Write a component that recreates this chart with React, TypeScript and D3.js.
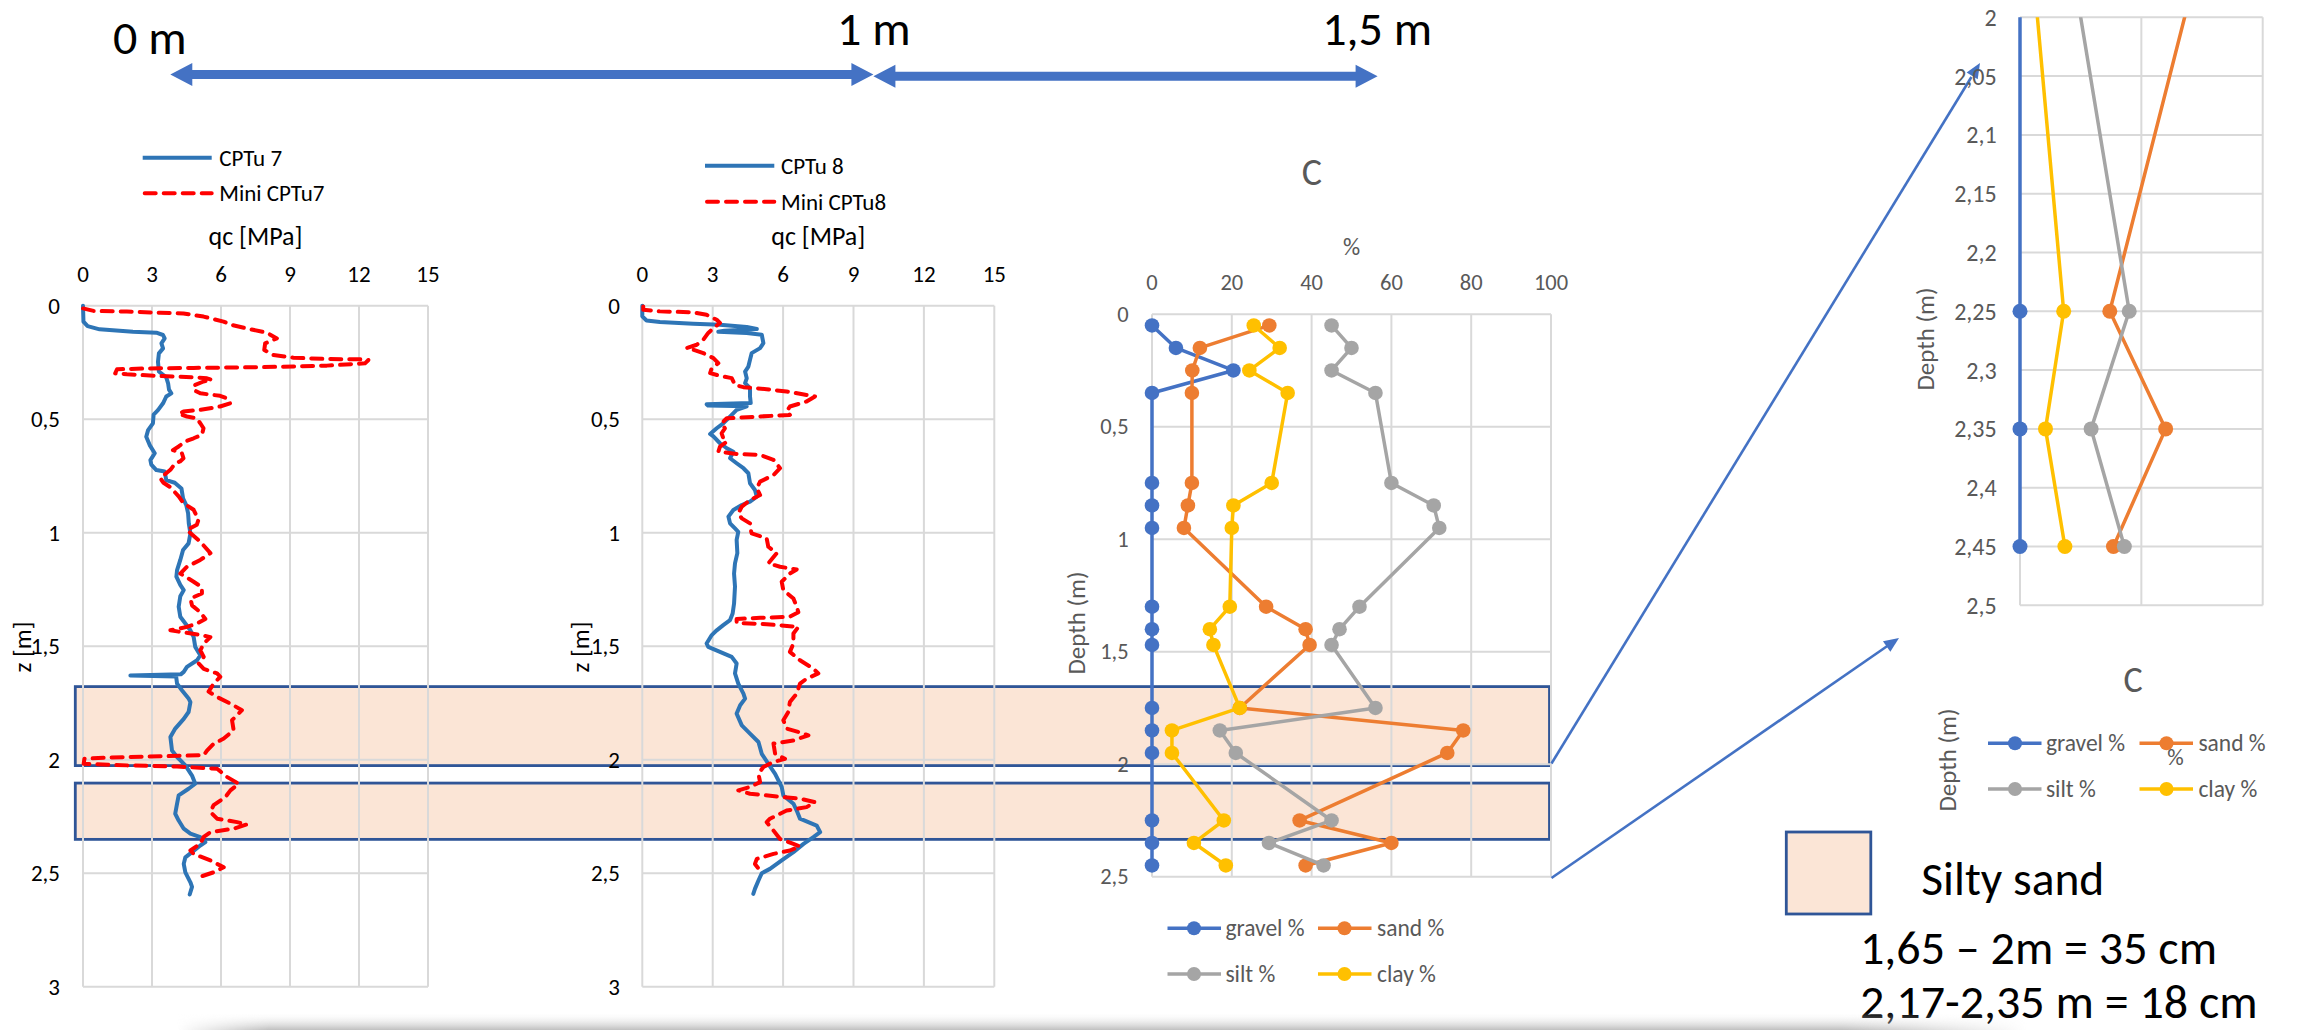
import React, { useMemo } from 'react';
import * as d3 from 'd3';

// ---------------- data ----------------
const qcTicks = [0, 3, 6, 9, 12, 15];
const depthTicks = [0, 0.5, 1, 1.5, 2, 2.5, 3];
const grainTicks = [0, 20, 40, 60, 80, 100];
const grainDepthTicks = [0, 0.5, 1, 1.5, 2, 2.5];
const insetDepthTicks = [2, 2.05, 2.1, 2.15, 2.2, 2.25, 2.3, 2.35, 2.4, 2.45, 2.5];
const insetGridX = [0, 50, 100];

// [depth m, qc MPa]
const cptu7: [number, number][] = [[0,0],[0.07,0.02],[0.09,0.2],[0.104,0.72],[0.115,2.17],[0.119,3.19],[0.129,3.48],[0.144,3.55],[0.166,3.41],[0.188,3.48],[0.21,3.3],[0.247,3.26],[0.29,3.3],[0.316,3.62],[0.342,3.7],[0.37,3.74],[0.386,3.84],[0.40,3.62],[0.43,3.48],[0.46,3.26],[0.48,3.07],[0.518,3.04],[0.548,2.83],[0.577,2.75],[0.614,2.9],[0.65,3.12],[0.68,2.93],[0.70,2.97],[0.724,3.19],[0.73,3.55],[0.768,3.62],[0.78,3.99],[0.805,4.28],[0.849,4.35],[0.878,4.49],[0.915,4.57],[0.959,4.6],[1.003,4.67],[1.047,4.59],[1.076,4.35],[1.12,4.23],[1.165,4.09],[1.194,4.06],[1.23,4.23],[1.253,4.38],[1.28,4.23],[1.326,4.16],[1.37,4.23],[1.40,4.45],[1.43,4.67],[1.459,4.81],[1.503,4.88],[1.54,5.1],[1.562,4.96],[1.591,4.52],[1.613,4.38],[1.624,4.25],[1.629,2.06],[1.634,4.05],[1.665,4.09],[1.694,4.3],[1.73,4.59],[1.746,4.67],[1.79,4.59],[1.82,4.38],[1.863,4.01],[1.90,3.8],[1.96,3.87],[1.988,4.09],[2.025,4.45],[2.07,4.74],[2.106,4.88],[2.128,4.59],[2.157,4.16],[2.194,4.09],[2.238,4.01],[2.268,4.16],[2.304,4.38],[2.326,4.67],[2.341,5.1],[2.363,5.32],[2.378,5.1],[2.407,4.74],[2.43,4.45],[2.459,4.38],[2.496,4.45],[2.54,4.67],[2.56,4.74],[2.594,4.64]];

const miniCptu7: [number, number][] = [[0.012,0],[0.023,0.46],[0.026,1.91],[0.031,3.36],[0.034,4.37],[0.048,5.24],[0.07,6.11],[0.085,6.47],[0.10,7.12],[0.119,7.99],[0.144,8.43],[0.166,7.92],[0.195,7.88],[0.217,8.28],[0.229,9.15],[0.235,10.6],[0.236,12.05],[0.239,12.41],[0.254,12.26],[0.264,10.6],[0.271,7.7],[0.274,4.81],[0.277,2.64],[0.28,1.48],[0.298,1.4],[0.302,1.91],[0.31,3.36],[0.315,4.81],[0.32,5.39],[0.327,5.6],[0.334,5.24],[0.349,4.88],[0.371,4.81],[0.386,5.1],[0.397,5.96],[0.408,6.25],[0.43,6.4],[0.444,5.96],[0.459,5.1],[0.466,4.37],[0.477,4.16],[0.488,4.52],[0.496,4.95],[0.518,5.1],[0.54,5.24],[0.569,5.17],[0.584,4.81],[0.598,4.45],[0.62,4.16],[0.636,3.91],[0.65,4.3],[0.672,4.37],[0.686,4.22],[0.694,4.01],[0.723,3.8],[0.76,3.36],[0.78,3.5],[0.80,3.8],[0.84,4.16],[0.87,4.37],[0.899,4.81],[0.943,5.02],[0.965,4.95],[0.988,4.52],[1.04,5.1],[1.09,5.54],[1.12,5.1],[1.15,4.52],[1.18,4.23],[1.216,4.81],[1.24,5.17],[1.268,5.17],[1.29,4.67],[1.32,4.74],[1.35,5.1],[1.38,5.32],[1.40,4.96],[1.415,4.52],[1.43,3.8],[1.437,4.23],[1.45,5.1],[1.46,5.54],[1.488,5.25],[1.518,5.1],[1.547,5.25],[1.576,5.03],[1.60,5.25],[1.62,5.83],[1.635,5.97],[1.665,5.68],[1.70,5.46],[1.724,5.83],[1.753,6.41],[1.782,6.91],[1.826,6.48],[1.87,6.55],[1.907,6.12],[1.93,5.68],[1.96,5.39],[1.98,5.25],[1.985,3.36],[1.99,1.19],[1.996,0.06],[2.018,0.03],[2.025,1.91],[2.03,4.09],[2.04,5.83],[2.076,6.26],[2.106,6.77],[2.135,6.41],[2.165,6.19],[2.2,5.68],[2.23,5.54],[2.26,5.83],[2.275,6.7],[2.285,7.13],[2.304,6.55],[2.319,5.54],[2.34,5.25],[2.37,5.1],[2.4,4.67],[2.415,4.81],[2.444,5.54],[2.474,6.12],[2.496,5.68],[2.518,5.03]];

const cptu8: [number, number][] = [[0,0],[0.047,0],[0.065,0.18],[0.072,0.75],[0.079,2.17],[0.084,3.31],[0.094,4.45],[0.103,4.88],[0.11,3.5],[0.115,3.24],[0.12,4.45],[0.128,5.09],[0.165,5.16],[0.187,5.02],[0.209,4.66],[0.238,4.59],[0.268,4.52],[0.29,4.38],[0.32,4.45],[0.341,4.38],[0.363,4.59],[0.4,4.59],[0.429,4.62],[0.434,2.74],[0.44,2.8],[0.443,4.45],[0.459,4.02],[0.481,3.81],[0.503,3.6],[0.518,3.45],[0.54,3.17],[0.565,2.89],[0.576,3.03],[0.606,3.31],[0.628,3.6],[0.643,3.88],[0.672,3.74],[0.694,4.02],[0.716,4.31],[0.738,4.52],[0.782,4.59],[0.812,4.8],[0.841,4.88],[0.863,4.59],[0.878,4.24],[0.9,3.88],[0.929,3.67],[0.959,3.74],[0.981,3.95],[0.996,4.09],[1.032,4.02],[1.09,4.05],[1.135,3.95],[1.18,3.91],[1.238,3.95],[1.312,3.91],[1.356,3.85],[1.385,3.74],[1.407,3.45],[1.43,3.17],[1.451,2.96],[1.488,2.74],[1.503,2.81],[1.525,3.31],[1.547,3.81],[1.576,4.02],[1.62,3.95],[1.665,4.09],[1.709,4.31],[1.731,4.38],[1.76,4.17],[1.797,4.02],[1.849,4.24],[1.885,4.59],[1.922,4.95],[1.974,5.09],[2.018,5.37],[2.062,5.66],[2.12,5.94],[2.157,6.01],[2.194,6.44],[2.224,6.58],[2.26,6.72],[2.29,7.43],[2.319,7.58],[2.341,7.29],[2.371,6.87],[2.407,6.44],[2.444,5.94],[2.481,5.44],[2.5,5.09],[2.532,4.95],[2.569,4.8],[2.591,4.73]];

const miniCptu8: [number, number][] = [[0.003,0.04],[0.018,0.04],[0.025,0.75],[0.029,2.17],[0.04,2.74],[0.062,3.17],[0.076,3.31],[0.099,3.03],[0.12,2.81],[0.15,2.6],[0.172,2.32],[0.187,1.89],[0.194,2.17],[0.209,2.6],[0.231,3.03],[0.253,3.24],[0.275,2.96],[0.297,2.89],[0.309,3.31],[0.319,3.81],[0.349,3.95],[0.359,4.31],[0.368,5.3],[0.378,6.15],[0.393,7.0],[0.4,7.36],[0.422,7.0],[0.444,6.29],[0.466,6.15],[0.481,6.29],[0.488,5.02],[0.496,3.6],[0.518,3.38],[0.54,3.52],[0.562,3.38],[0.584,3.45],[0.599,3.6],[0.621,3.31],[0.643,3.24],[0.653,4.02],[0.657,5.02],[0.679,5.59],[0.716,5.87],[0.746,5.59],[0.775,5.02],[0.804,4.88],[0.834,5.02],[0.856,4.59],[0.885,4.24],[0.915,4.09],[0.937,4.24],[0.959,4.59],[0.974,4.59],[1.003,4.66],[1.025,5.3],[1.062,5.37],[1.09,5.73],[1.135,5.37],[1.15,5.87],[1.162,6.58],[1.18,6.29],[1.216,5.94],[1.253,6.01],[1.29,6.44],[1.326,6.58],[1.35,6.65],[1.37,6.29],[1.375,5.02],[1.38,4.02],[1.397,4.02],[1.403,5.3],[1.415,6.65],[1.444,6.44],[1.488,6.44],[1.525,6.29],[1.562,6.72],[1.599,7.29],[1.62,7.5],[1.643,7.0],[1.665,6.72],[1.709,6.58],[1.746,6.29],[1.79,6.22],[1.826,6.01],[1.863,6.15],[1.878,6.65],[1.893,7.08],[1.915,6.44],[1.929,5.59],[1.974,5.66],[1.996,6.08],[2.01,5.59],[2.032,5.16],[2.062,4.95],[2.099,5.02],[2.12,4.59],[2.135,4.09],[2.15,4.59],[2.162,5.73],[2.172,6.72],[2.187,7.36],[2.209,7.0],[2.224,6.15],[2.238,5.87],[2.26,5.44],[2.275,5.3],[2.312,5.59],[2.349,5.87],[2.371,6.44],[2.382,6.72],[2.4,6.29],[2.415,5.59],[2.437,4.88],[2.459,4.8],[2.488,5.02]];

// grain size distribution (sample depths, %)
const grainDepths = [0.05, 0.15, 0.25, 0.35, 0.75, 0.85, 0.95, 1.30, 1.40, 1.47, 1.75, 1.85, 1.95, 2.25, 2.35, 2.45];
const gravelPct = [0, 6, 20.4, 0, 0, 0, 0, 0, 0, 0, 0, 0, 0, 0, 0, 0];
const sandPct = [29.4, 12, 10.1, 10, 10, 9, 8, 28.6, 38.5, 39.5, 22, 78, 74, 37, 60, 38.5];
const siltPct = [45, 50, 45, 56, 60, 70.6, 72, 52, 47, 45, 56, 17, 21, 45, 29.3, 43];
const clayPct = [25.5, 32, 24.4, 34, 30, 20.4, 20, 19.5, 14.5, 15.4, 22, 5, 5, 18, 10.5, 18.5];
const grainSeries = [
  { name: 'gravel %', values: gravelPct, color: '#4472C4' },
  { name: 'sand %', values: sandPct, color: '#ED7D31' },
  { name: 'silt %', values: siltPct, color: '#A5A5A5' },
  { name: 'clay %', values: clayPct, color: '#FFC000' },
];

// silty sand layers (depth, m)
const siltySandLayers: [number, number][] = [[1.678, 2.026], [2.103, 2.351]];

const scaleLabels = ['0 m', '1 m', '1,5 m'];
const cptNames = [['CPTu 7', 'Mini CPTu7'], ['CPTu 8', 'Mini CPTu8']];
const layerTexts = ['Silty sand', '1,65 – 2m = 35 cm', '2,17-2,35 m = 18 cm'];

// ---------------- helpers ----------------
const comma = (v: number) => String(v).replace('.', ',');

function detectFont(): { family: string; k: number } {
  try {
    const ctx = document.createElement('canvas').getContext('2d');
    if (ctx) {
      const s = 'mmmmmmmmmlli1234567890WQabc';
      ctx.font = '40px monospace';
      const base = ctx.measureText(s).width;
      for (const f of ['Carlito', 'Calibri']) {
        ctx.font = `40px "${f}", monospace`;
        if (Math.abs(ctx.measureText(s).width - base) > 0.5) return { family: `"${f}", sans-serif`, k: 1 };
      }
    }
  } catch (e) { /* ignore */ }
  return { family: 'Lato, sans-serif', k: 0.89 };
}

const GRID = '#D9D9D9';
const CPT_BLUE = '#2E75B6';
const RED = '#FF0000';
const GRAY_TXT = '#595959';

type PanelGeo = {
  x0: number; x1: number; yTop: number; yBot: number;
  tickRight: number; zLabelX: number;
  legLine: [number, number]; legTextX: number; legY: [number, number];
};

const P1: PanelGeo = { x0: 83, x1: 428, yTop: 305.7, yBot: 986.7, tickRight: 60, zLabelX: 22, legLine: [142.7, 211.7], legTextX: 219.3, legY: [157.7, 193.3] };
const P2: PanelGeo = { x0: 642.3, x1: 994.3, yTop: 305.7, yBot: 986.7, tickRight: 620, zLabelX: 580, legLine: [705, 774.3], legTextX: 781, legY: [165.7, 201.7] };

function CptPanel({ g, blue, red, names, font, k }: { g: PanelGeo; blue: [number, number][]; red: [number, number][]; names: string[]; font: string; k: number }) {
  const xs = d3.scaleLinear().domain([0, 15]).range([g.x0, g.x1]);
  const ys = d3.scaleLinear().domain([0, 3]).range([g.yTop, g.yBot]);
  const line = d3.line<[number, number]>().x(p => xs(p[1])).y(p => ys(p[0]));
  const fs = (n: number) => n * k;
  return (
    <g fontFamily={font}>
      {qcTicks.map(t => (
        <line key={'v' + t} x1={xs(t)} x2={xs(t)} y1={ys(0)} y2={ys(3)} stroke={GRID} strokeWidth={2} />
      ))}
      {depthTicks.map(t => (
        <line key={'h' + t} x1={xs(0)} x2={xs(15)} y1={ys(t)} y2={ys(t)} stroke={GRID} strokeWidth={2} />
      ))}
      {qcTicks.map(t => (
        <text key={'tx' + t} x={xs(t)} y={281.7} textAnchor="middle" fontSize={fs(23)} fill="#000">{t}</text>
      ))}
      {depthTicks.map(t => (
        <text key={'ty' + t} x={g.tickRight} y={ys(t)} textAnchor="end" dominantBaseline="central" fontSize={fs(23)} fill="#000">{comma(t)}</text>
      ))}
      <text x={(g.x0 + g.x1) / 2} y={245} textAnchor="middle" fontSize={fs(26)} fill="#000">qc [MPa]</text>
      <text transform={`translate(${g.zLabelX},647) rotate(-90)`} textAnchor="middle" dominantBaseline="central" fontSize={fs(25)} fill="#000">z [m]</text>
      <path d={line(blue) || ''} fill="none" stroke={CPT_BLUE} strokeWidth={4} strokeLinejoin="round" strokeLinecap="round" />
      <path d={line(red) || ''} fill="none" stroke={RED} strokeWidth={4} strokeDasharray="11 8" strokeLinecap="round" strokeLinejoin="round" />
      <line x1={g.legLine[0]} x2={g.legLine[1]} y1={g.legY[0]} y2={g.legY[0]} stroke={CPT_BLUE} strokeWidth={4} />
      <line x1={g.legLine[0] + 2} x2={g.legLine[1]} y1={g.legY[1]} y2={g.legY[1]} stroke={RED} strokeWidth={4} strokeDasharray="11 8" strokeLinecap="round" />
      <text x={g.legTextX} y={g.legY[0]} dominantBaseline="central" fontSize={fs(23)} fill="#000">{names[0]}</text>
      <text x={g.legTextX} y={g.legY[1]} dominantBaseline="central" fontSize={fs(23)} fill="#000">{names[1]}</text>
    </g>
  );
}

function arrowHead(x1: number, y1: number, x2: number, y2: number, len = 15, half = 6.5) {
  const a = Math.atan2(y2 - y1, x2 - x1);
  const bx = x2 - len * Math.cos(a), by = y2 - len * Math.sin(a);
  const px = -Math.sin(a) * half, py = Math.cos(a) * half;
  return `${x2},${y2} ${bx + px},${by + py} ${bx - px},${by - py}`;
}

function dblArrow(xa: number, xb: number, y: number, shaft = 9, headL = 22, headH = 23) {
  const pts = [
    [xa, y], [xa + headL, y - headH / 2], [xa + headL, y - shaft / 2], [xb - headL, y - shaft / 2],
    [xb - headL, y - headH / 2], [xb, y], [xb - headL, y + headH / 2], [xb - headL, y + shaft / 2],
    [xa + headL, y + shaft / 2], [xa + headL, y + headH / 2],
  ];
  return pts.map(p => p.join(',')).join(' ');
}

export default function App() {
  const { family: font, k } = useMemo(detectFont, []);
  const fs = (n: number) => n * k;

  // CPT depth scale used for the layer rectangles
  const yCpt = d3.scaleLinear().domain([0, 3]).range([305.7, 986.7]);

  // grain panel
  const gx = d3.scaleLinear().domain([0, 100]).range([1152, 1551]);
  const gy = d3.scaleLinear().domain([0, 2.5]).range([314.2, 876.7]);
  // inset
  const ix = d3.scaleLinear().domain([0, 100]).range([2020, 2262.7]);
  const iy = d3.scaleLinear().domain([2, 2.5]).range([17.3, 605.3]);

  const seriesPts = (vals: number[]) => grainDepths.map((d, i) => [d, vals[i]] as [number, number]);
  const gLine = d3.line<[number, number]>().x(p => gx(p[1])).y(p => gy(p[0]));
  const iLine = d3.line<[number, number]>().x(p => ix(p[1])).y(p => iy(p[0]));

  const c1 = { x1: 1551.5, y1: 763.5, x2: 1980, y2: 63 };
  const c2 = { x1: 1551.5, y1: 878, x2: 1899, y2: 638 };

  return (
    <svg width={2310} height={1030} style={{ position: 'absolute', left: 0, top: 0, background: '#fff' }} fontFamily={font}>
      <defs>
        <clipPath id="insetClip">
          <rect x={2000} y={iy(2)} width={300} height={iy(2.5) - iy(2)} />
        </clipPath>
        <linearGradient id="shadowV" x1="0" y1="0" x2="0" y2="1">
          <stop offset="0" stopColor="#ffffff" stopOpacity={0} />
          <stop offset="1" stopColor="#b8b8b8" stopOpacity={0.9} />
        </linearGradient>
        <linearGradient id="shadowH" x1="0" y1="0" x2="1" y2="0">
          <stop offset="0" stopColor="#fff" stopOpacity={0} />
          <stop offset="0.05" stopColor="#fff" stopOpacity={1} />
          <stop offset="0.9" stopColor="#fff" stopOpacity={1} />
          <stop offset="1" stopColor="#fff" stopOpacity={0} />
        </linearGradient>
        <mask id="shadowMask">
          <rect x={177} y={1012} width={1850} height={18} fill="url(#shadowH)" />
        </mask>
      </defs>
      <rect x={0} y={0} width={2310} height={1030} fill="#fff" />

      {/* top scale */}
      <text x={113} y={54} fontSize={fs(48)} fill="#000">{scaleLabels[0]}</text>
      <text x={837} y={45} fontSize={fs(48)} fill="#000">{scaleLabels[1]}</text>
      <text x={1432} y={45} fontSize={fs(48)} fill="#000" textAnchor="end">{scaleLabels[2]}</text>
      <polygon points={dblArrow(170.3, 873.4, 74.5)} fill="#4472C4" />
      <polygon points={dblArrow(873.4, 1377.6, 76.3)} fill="#4472C4" />

      {/* silty sand layers */}
      {siltySandLayers.map(([a, b], i) => (
        <rect key={i} x={75.3} y={yCpt(a)} width={1549.5 - 75.3} height={yCpt(b) - yCpt(a)} fill="#FBE5D6" stroke="#2F5597" strokeWidth={2.8} />
      ))}

      <CptPanel g={P1} blue={cptu7} red={miniCptu7} names={cptNames[0]} font={font} k={k} />
      <CptPanel g={P2} blue={cptu8} red={miniCptu8} names={cptNames[1]} font={font} k={k} />

      {/* grain size panel */}
      <g>
        {grainTicks.map(t => (
          <line key={'gv' + t} x1={gx(t)} x2={gx(t)} y1={gy(0)} y2={gy(2.5)} stroke={GRID} strokeWidth={2} />
        ))}
        {grainDepthTicks.map(t => (
          <line key={'gh' + t} x1={gx(0)} x2={gx(100)} y1={gy(t)} y2={gy(t)} stroke={GRID} strokeWidth={2} />
        ))}
        {grainTicks.map(t => (
          <text key={'gtx' + t} x={gx(t)} y={290} textAnchor="middle" fontSize={fs(22.5)} fill={GRAY_TXT}>{t}</text>
        ))}
        {grainDepthTicks.map(t => (
          <text key={'gty' + t} x={1128.6} y={gy(t)} textAnchor="end" dominantBaseline="central" fontSize={fs(22.5)} fill={GRAY_TXT}>{comma(t)}</text>
        ))}
        <text x={1312} y={171.7} textAnchor="middle" dominantBaseline="central" fontSize={fs(38)} fill={GRAY_TXT}>C</text>
        <text x={1351.6} y={246.7} textAnchor="middle" dominantBaseline="central" fontSize={fs(24)} fill={GRAY_TXT}>%</text>
        <text transform="translate(1076,623) rotate(-90)" textAnchor="middle" dominantBaseline="central" fontSize={fs(25)} fill={GRAY_TXT}>Depth (m)</text>
        {grainSeries.map(s => (
          <g key={s.name}>
            <path d={gLine(seriesPts(s.values)) || ''} fill="none" stroke={s.color} strokeWidth={3.5} strokeLinejoin="round" />
            {seriesPts(s.values).map((p, i) => (
              <circle key={i} cx={gx(p[1])} cy={gy(p[0])} r={7.3} fill={s.color} />
            ))}
          </g>
        ))}
        {grainSeries.map((s, i) => {
          const col = i % 2, row = Math.floor(i / 2);
          const lx = col === 0 ? 1167.5 : 1318;
          const tx = col === 0 ? 1225.4 : 1377;
          const ly = row === 0 ? 928.3 : 974;
          return (
            <g key={'gl' + s.name}>
              <line x1={lx} x2={lx + 53.5} y1={ly} y2={ly} stroke={s.color} strokeWidth={3.5} />
              <circle cx={lx + 26.5} cy={ly} r={7} fill={s.color} />
              <text x={tx} y={ly} dominantBaseline="central" fontSize={fs(23.5)} fill={GRAY_TXT}>{s.name}</text>
            </g>
          );
        })}
      </g>

      {/* connectors */}
      {[c1, c2].map((c, i) => (
        <g key={'c' + i}>
          <line x1={c.x1} y1={c.y1} x2={c.x2 - (c.x2 - c.x1) * 0.02} y2={c.y2 - (c.y2 - c.y1) * 0.02} stroke="#4472C4" strokeWidth={2.6} />
          <polygon points={arrowHead(c.x1, c.y1, c.x2, c.y2)} fill="#4472C4" />
        </g>
      ))}

      {/* inset */}
      <g>
        {insetGridX.map(t => (
          <line key={'iv' + t} x1={ix(t)} x2={ix(t)} y1={iy(2)} y2={iy(2.5)} stroke={GRID} strokeWidth={2} />
        ))}
        {insetDepthTicks.map(t => (
          <line key={'ih' + t} x1={ix(0)} x2={ix(100)} y1={iy(t)} y2={iy(t)} stroke={GRID} strokeWidth={2} />
        ))}
        {insetDepthTicks.map(t => (
          <text key={'it' + t} x={1996.7} y={iy(t)} textAnchor="end" dominantBaseline="central" fontSize={fs(24)} fill={GRAY_TXT}>{comma(t)}</text>
        ))}
        <text transform="translate(1925,339) rotate(-90)" textAnchor="middle" dominantBaseline="central" fontSize={fs(25)} fill={GRAY_TXT}>Depth (m)</text>
        <g clipPath="url(#insetClip)">
          {grainSeries.map(s => (
            <path key={'il' + s.name} d={iLine(seriesPts(s.values)) || ''} fill="none" stroke={s.color} strokeWidth={3.5} strokeLinejoin="round" />
          ))}
        </g>
        {grainSeries.map(s => (
          <g key={'im' + s.name}>
            {seriesPts(s.values).filter(p => p[0] >= 2 && p[0] <= 2.5).map((p, i) => (
              <circle key={i} cx={ix(p[1])} cy={iy(p[0])} r={7.5} fill={s.color} />
            ))}
          </g>
        ))}
        {/* overflow of the inset chart (title, axis titles, legend) */}
        <text x={2133} y={680} textAnchor="middle" dominantBaseline="central" fontSize={fs(36)} fill={GRAY_TXT}>C</text>
        <text transform="translate(1947.6,760) rotate(-90)" textAnchor="middle" dominantBaseline="central" fontSize={fs(25)} fill={GRAY_TXT}>Depth (m)</text>
        {grainSeries.map((s, i) => {
          const col = i % 2, row = Math.floor(i / 2);
          const lx = col === 0 ? 1988 : 2139.5;
          const tx = col === 0 ? 2045.9 : 2198.4;
          const ly = row === 0 ? 743.3 : 789;
          return (
            <g key={'il2' + s.name}>
              <line x1={lx} x2={lx + 53.5} y1={ly} y2={ly} stroke={s.color} strokeWidth={3.5} />
              <circle cx={lx + 27} cy={ly} r={7} fill={s.color} />
              <text x={tx} y={ly} dominantBaseline="central" fontSize={fs(23.5)} fill={GRAY_TXT}>{s.name}</text>
            </g>
          );
        })}
        <text x={2175.6} y={756.7} textAnchor="middle" dominantBaseline="central" fontSize={fs(23)} fill={GRAY_TXT}>%</text>
      </g>

      {/* legend of silty sand */}
      <rect x={1786.3} y={832} width={84.5} height={82} fill="#FBE5D6" stroke="#2F5597" strokeWidth={2.8} />
      <text x={1921.3} y={895} fontSize={fs(47.5)} fill="#000">{layerTexts[0]}</text>
      <text x={1860} y={964} fontSize={fs(48)} fill="#000">{layerTexts[1]}</text>
      <text x={1860} y={1018} fontSize={fs(48)} fill="#000">{layerTexts[2]}</text>

      {/* slide shadow at the bottom */}
      <rect x={177} y={1012} width={1850} height={18} fill="url(#shadowV)" mask="url(#shadowMask)" />
    </svg>
  );
}
